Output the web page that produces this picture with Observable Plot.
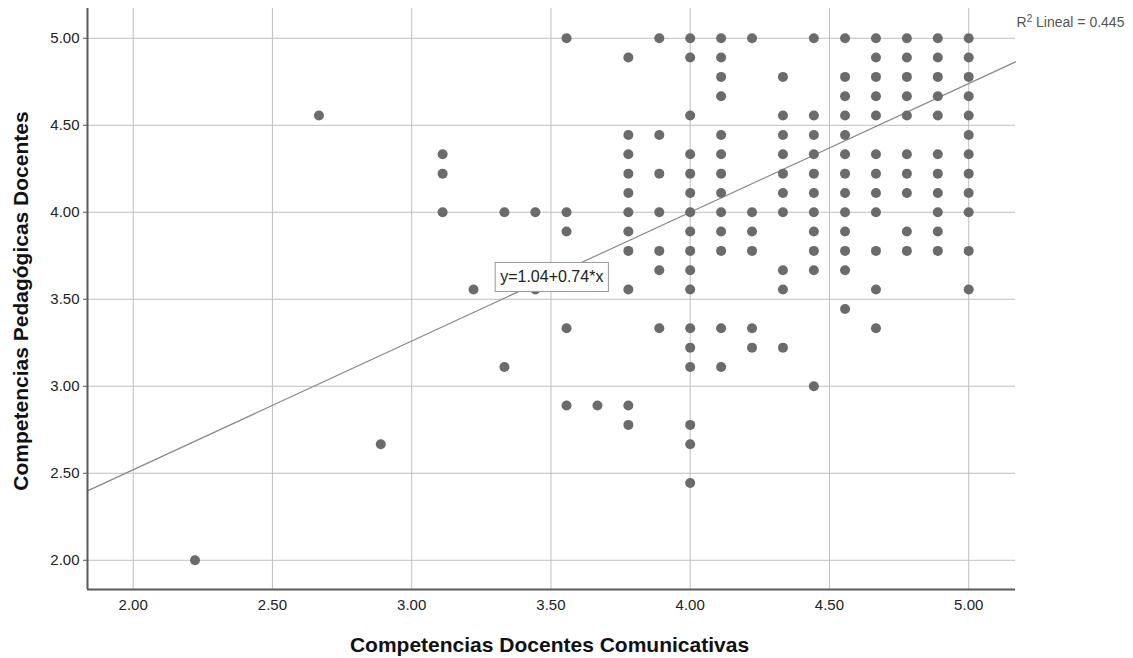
<!DOCTYPE html>
<html>
<head>
<meta charset="utf-8">
<script src="https://cdn.jsdelivr.net/npm/d3@7"></script>
<script src="https://cdn.jsdelivr.net/npm/@observablehq/plot@0.6"></script>
<style>
  body { margin: 0; background: #fff; }
  #chart { width: 1133px; height: 658px; }
</style>
</head>
<body>
<div id="chart"></div>
<script>
// Competencias Docentes Comunicativas (x) levels and the
// Competencias Pedagógicas Docentes (y) values observed at each level
const xLevels = [2.222, 2.667, 2.889, 3.111, 3.222, 3.333, 3.444, 3.556, 3.667, 3.778, 3.889,
                 4.000, 4.111, 4.222, 4.333, 4.444, 4.556, 4.667, 4.778, 4.889, 5.000];
const yByLevel = [
  [2.000],
  [4.556],
  [2.667],
  [4.333, 4.222, 4.000],
  [3.556],
  [4.000, 3.111],
  [4.000, 3.556],
  [5.000, 4.000, 3.889, 3.333, 2.889],
  [2.889],
  [4.889, 4.444, 4.333, 4.222, 4.111, 4.000, 3.889, 3.778, 3.556, 2.889, 2.778],
  [5.000, 4.444, 4.222, 4.000, 3.778, 3.667, 3.333],
  [5.000, 4.889, 4.556, 4.333, 4.222, 4.111, 4.000, 3.889, 3.778, 3.667, 3.556, 3.333, 3.222, 3.111, 2.778, 2.667, 2.444],
  [5.000, 4.889, 4.778, 4.667, 4.444, 4.333, 4.222, 4.111, 4.000, 3.889, 3.778, 3.333, 3.111],
  [5.000, 4.000, 3.889, 3.778, 3.333, 3.222],
  [4.778, 4.556, 4.444, 4.333, 4.222, 4.111, 4.000, 3.667, 3.556, 3.222],
  [5.000, 4.556, 4.444, 4.333, 4.222, 4.111, 4.000, 3.889, 3.778, 3.667, 3.000],
  [5.000, 4.778, 4.667, 4.556, 4.444, 4.333, 4.222, 4.111, 4.000, 3.889, 3.778, 3.667, 3.444],
  [5.000, 4.889, 4.778, 4.667, 4.556, 4.333, 4.222, 4.111, 4.000, 3.778, 3.556, 3.333],
  [5.000, 4.889, 4.778, 4.667, 4.556, 4.333, 4.222, 4.111, 3.889, 3.778],
  [5.000, 4.889, 4.778, 4.667, 4.556, 4.333, 4.222, 4.111, 4.000, 3.889, 3.778],
  [5.000, 4.889, 4.778, 4.667, 4.556, 4.444, 4.333, 4.222, 4.111, 4.000, 3.778, 3.556]
];
const tickValues = [2.0, 2.5, 3.0, 3.5, 4.0, 4.5, 5.0];
const xDomain = [1.836, 5.168];
const yDomain = [1.832, 5.171];
const fitIntercept = 1.04;
const fitSlope = 0.74;
const eqLabel = "y=1.04+0.74*x";
const eqAnchor = [3.503, 3.626];
const r2Prefix = "R";
const r2Sup = "2";
const r2Rest = " Lineal = 0.445";
const xTitle = "Competencias Docentes Comunicativas";
const yTitle = "Competencias Pedagógicas Docentes";

const points = xLevels.flatMap((x, i) => yByLevel[i].map(y => ({x, y})));
const fitLine = xDomain.map(x => ({x, y: fitIntercept + fitSlope * x}));
const fmt = d3.format(".2f");
const r2Full = r2Prefix + r2Sup + r2Rest;

const plot = Plot.plot({
  width: 1133,
  height: 658,
  marginLeft: 87,
  marginRight: 118,
  marginTop: 8,
  marginBottom: 69,
  style: {fontFamily: "'Liberation Sans', Arial, sans-serif", background: "#fff", color: "#222", overflow: "visible"},
  x: {domain: xDomain},
  y: {domain: yDomain},
  marks: [
    Plot.gridX(tickValues, {stroke: "#bfbfbf", strokeOpacity: 1, strokeWidth: 1}),
    Plot.gridY(tickValues, {stroke: "#bfbfbf", strokeOpacity: 1, strokeWidth: 1}),
    Plot.axisX(tickValues, {tickSize: 0, tickPadding: 10, fontSize: 15, label: null, tickFormat: fmt, fill: "#222"}),
    Plot.axisY(tickValues, {tickSize: 4, tickPadding: 4, fontSize: 15, label: null, tickFormat: fmt, fill: "#222", stroke: "#555"}),
    Plot.line(fitLine, {x: "x", y: "y", stroke: "#888", strokeWidth: 1.2}),
    Plot.dot(points, {x: "x", y: "y", r: 5, fill: "#6b6b6b"}),
    Plot.ruleX([xDomain[0]], {stroke: "#5a5a5a", strokeWidth: 2}),
    Plot.ruleY([yDomain[0]], {stroke: "#5a5a5a", strokeWidth: 2}),
    Plot.text([eqLabel], {x: eqAnchor[0], y: eqAnchor[1], text: d => d, fontSize: 16, fill: "#222", lineAnchor: "middle", textAnchor: "middle"}),
    Plot.text([r2Full], {frameAnchor: "top-right", text: d => d, dx: 1, dy: 14, textAnchor: "start", lineAnchor: "middle", fontSize: 14, fill: "#555"}),
    Plot.text([xTitle], {frameAnchor: "bottom", text: d => d, dx: -2, dy: 56, lineAnchor: "middle", textAnchor: "middle", fontSize: 21, fontWeight: "bold", fill: "#111"}),
    Plot.text([yTitle], {frameAnchor: "left", text: d => d, dx: -66, dy: 2, rotate: -90, lineAnchor: "middle", textAnchor: "middle", fontSize: 21, fontWeight: "bold", fill: "#111"})
  ]
});

document.getElementById("chart").appendChild(plot);

const texts = [...plot.querySelectorAll("text")];

// white box with gray border behind the equation label
const eqText = texts.find(t => t.textContent === eqLabel);
if (eqText) {
  const bb = eqText.getBBox();
  const rect = document.createElementNS("http://www.w3.org/2000/svg", "rect");
  rect.setAttribute("x", bb.x - 5);
  rect.setAttribute("y", bb.y - 6);
  rect.setAttribute("width", bb.width + 10);
  rect.setAttribute("height", bb.height + 12);
  rect.setAttribute("fill", "#fff");
  rect.setAttribute("stroke", "#9a9a9a");
  rect.setAttribute("stroke-width", "1");
  const tf = eqText.getAttribute("transform");
  if (tf) rect.setAttribute("transform", tf);
  eqText.parentNode.insertBefore(rect, eqText);
}

// superscript "2" in the R² label
const r2Text = texts.find(t => t.textContent === r2Full);
if (r2Text) {
  const ns = "http://www.w3.org/2000/svg";
  r2Text.textContent = "";
  const t1 = document.createElementNS(ns, "tspan");
  t1.textContent = r2Prefix;
  const t2 = document.createElementNS(ns, "tspan");
  t2.textContent = r2Sup;
  t2.setAttribute("font-size", "10");
  t2.setAttribute("dy", "-5");
  const t3 = document.createElementNS(ns, "tspan");
  t3.textContent = r2Rest;
  t3.setAttribute("dy", "5");
  r2Text.append(t1, t2, t3);
}
</script>
</body>
</html>
